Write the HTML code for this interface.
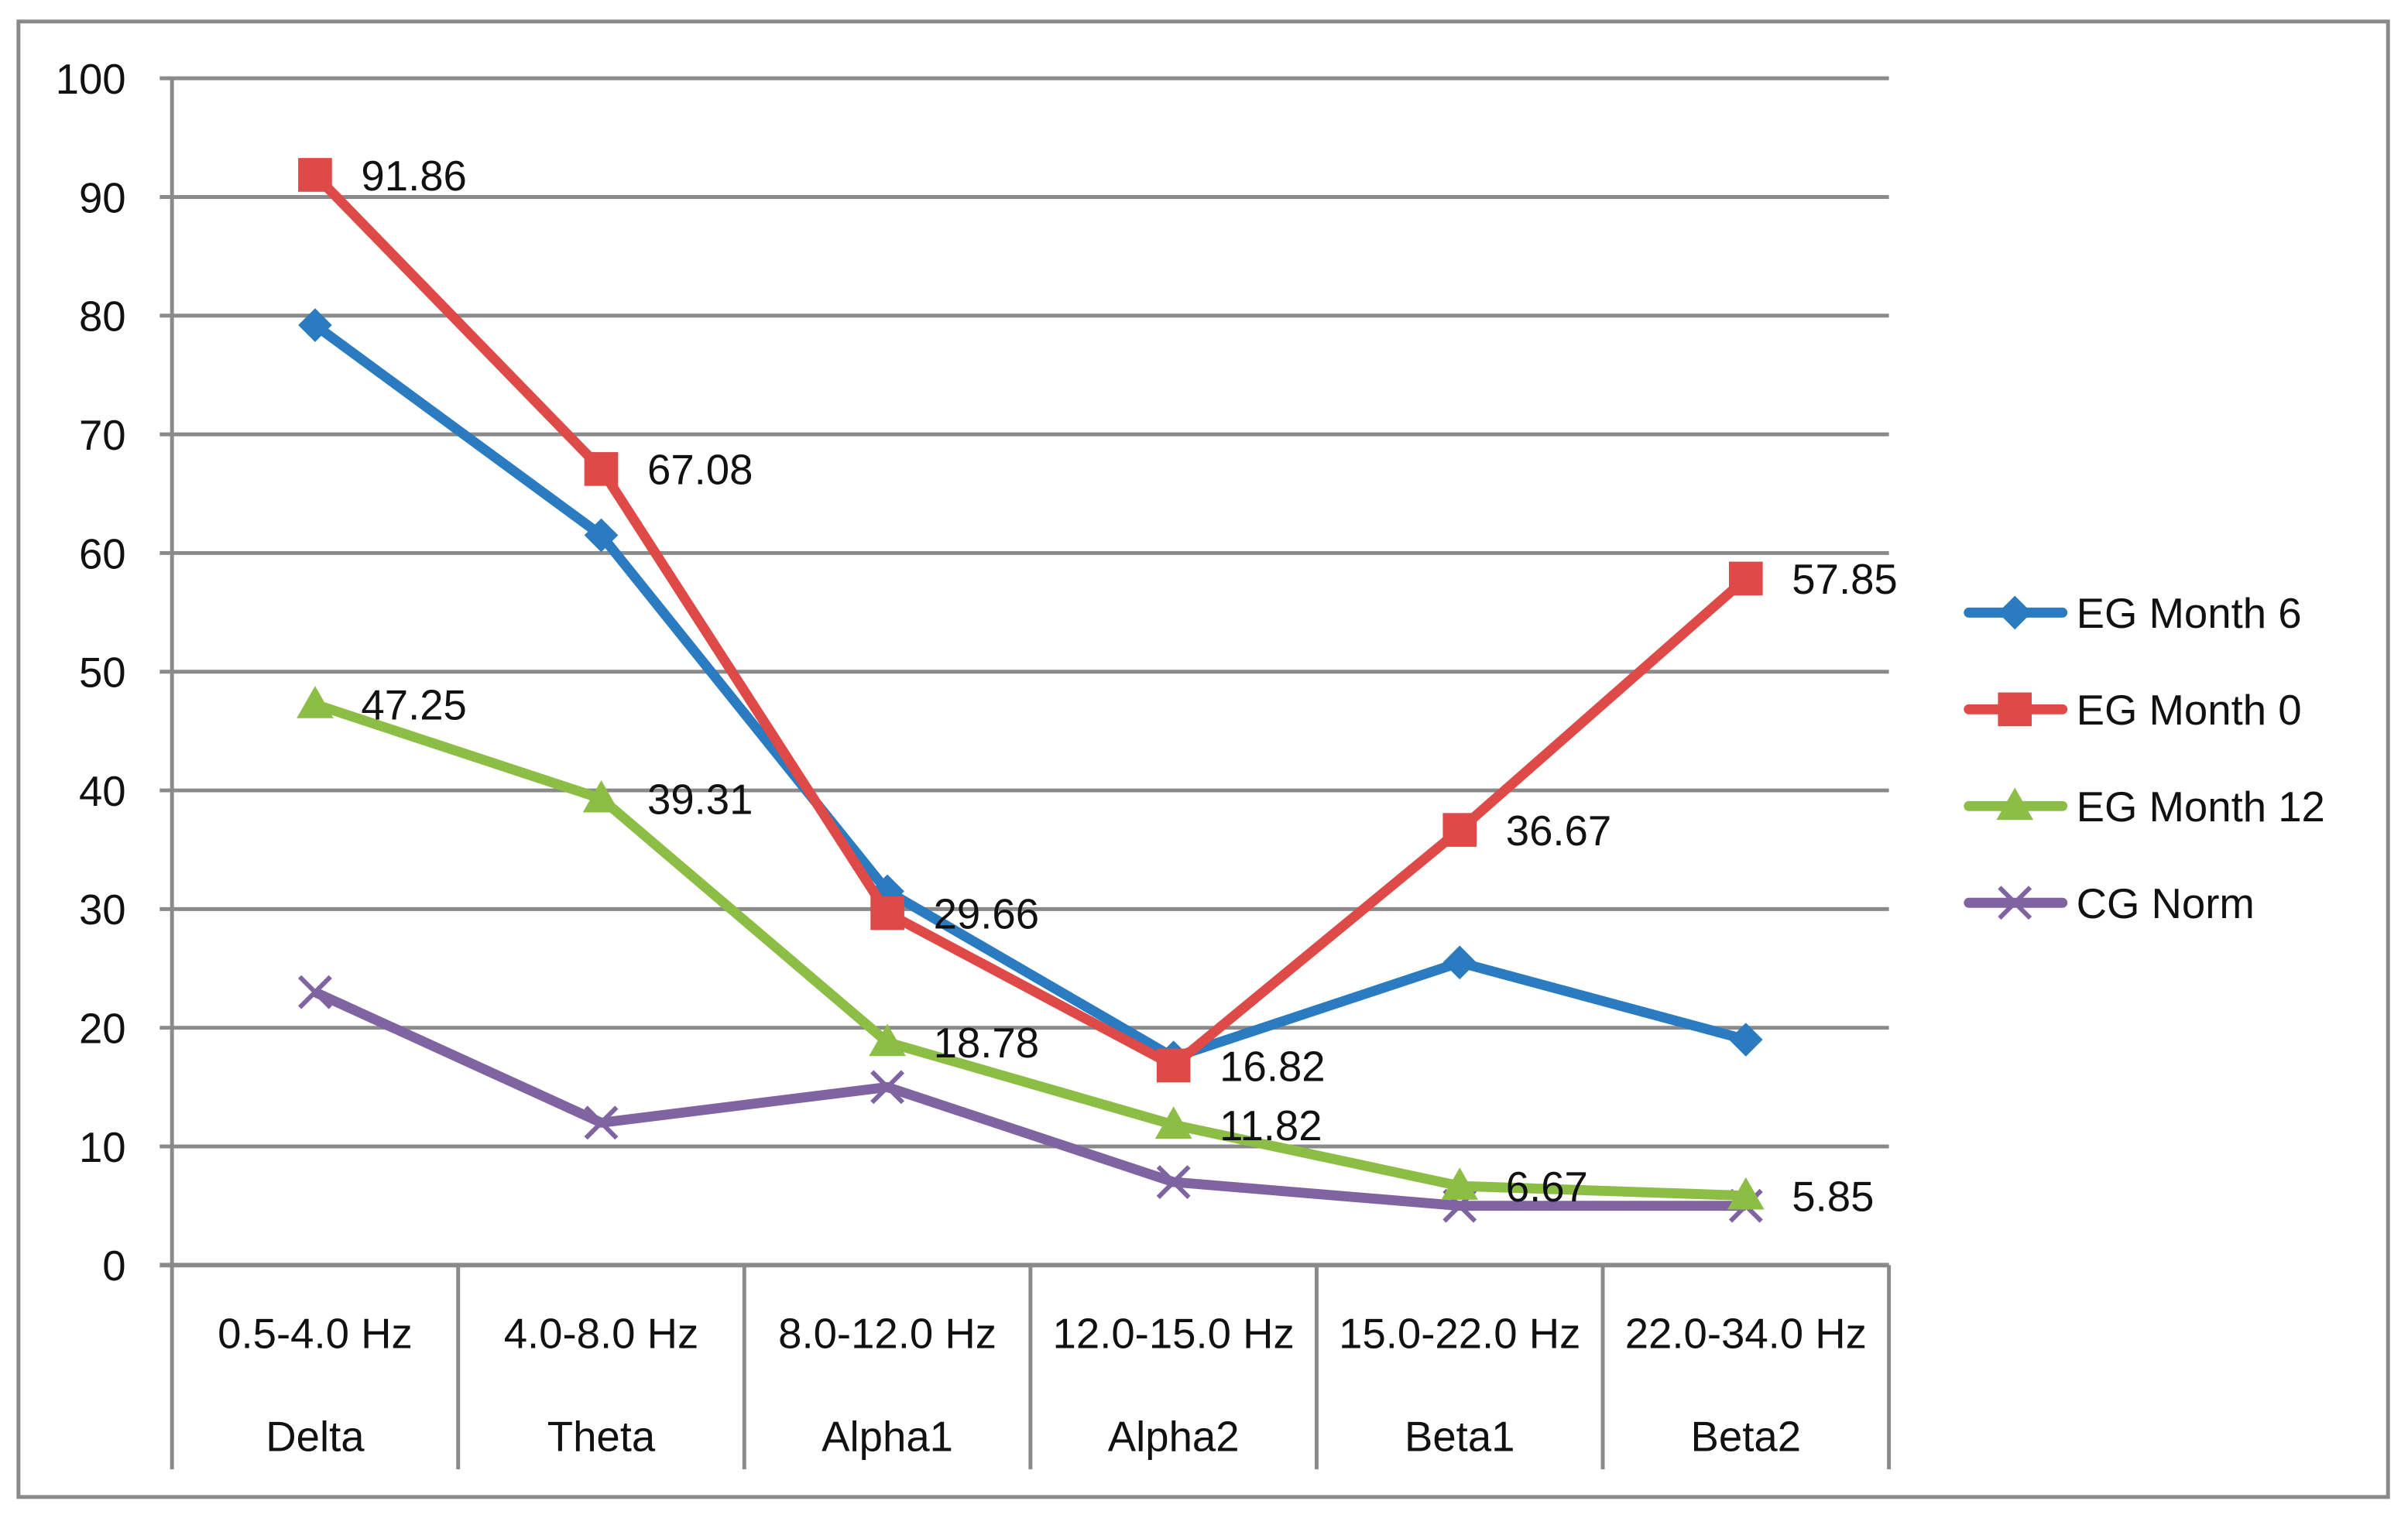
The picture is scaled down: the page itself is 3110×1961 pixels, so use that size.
<!DOCTYPE html>
<html><head><meta charset="utf-8"><style>
html,body{margin:0;padding:0;background:#fff;}
svg{display:block;font-family:"Liberation Sans",sans-serif;}
</style></head><body>
<svg id="chart" width="3110" height="1961" viewBox="0 0 1568 988.7" xmlns="http://www.w3.org/2000/svg">
<rect x="12" y="14" width="1543" height="961" fill="#fff" stroke="#8a8a8a" stroke-width="2.5"/>
<g id="grid"></g><g id="series"></g><g id="labels"></g><g id="legend"></g>
</svg>
<script>
const categoriesTop = ["0.5-4.0 Hz","4.0-8.0 Hz","8.0-12.0 Hz","12.0-15.0 Hz","15.0-22.0 Hz","22.0-34.0 Hz"];
const categoriesBottom = ["Delta","Theta","Alpha1","Alpha2","Beta1","Beta2"];
const yTicks = [0,10,20,30,40,50,60,70,80,90,100];
const seriesNames = ["EG Month 6","EG Month 0","EG Month 12","CG Norm"];
const egMonth6 = [79.2,61.5,31.5,17.5,25.5,19.0];
const egMonth0 = [91.86,67.08,29.66,16.82,36.67,57.85];
const egMonth12 = [47.25,39.31,18.78,11.82,6.67,5.85];
const cgNorm = [23.0,12.0,15.0,7.0,5.0,5.0];

const NS="http://www.w3.org/2000/svg";
const L=112,R=1230,Y0=824,Y100=51;
const FS=27.5;
const band=(R-L)/categoriesTop.length;
const xs=i=>L+band*(i+0.5);
const ys=v=>Y0-(v/100)*(Y0-Y100);
function mk(tag,attrs,parent,text){const e=document.createElementNS(NS,tag);for(const k in attrs)e.setAttribute(k,attrs[k]);if(text!==undefined)e.textContent=text;parent.appendChild(e);return e;}
const grid=document.getElementById('grid'),ser=document.getElementById('series'),lab=document.getElementById('labels'),leg=document.getElementById('legend');
yTicks.forEach(t=>{
  const y=ys(t);
  const ln=mk('line',{x1:L-8,x2:R,y1:y,y2:y,stroke:'#8a8a8a','stroke-width':t===0?3:2.5},grid);
  
  
  const tx=mk('text',{x:82,y:y+10,'text-anchor':'end','font-size':FS,fill:'#111'},grid,String(t));
  
  
});
for(let i=0;i<=categoriesTop.length;i++){
  const x=L+band*i;
  const ln=mk('line',{x1:x,x2:x,y1:i===0?Y100:Y0,y2:957,stroke:'#8a8a8a','stroke-width':2.5},grid);
  
  
}
categoriesTop.forEach((c,i)=>{
  const t1=mk('text',{x:xs(i),y:878,'text-anchor':'middle','font-size':FS,fill:'#111'},grid,c);
  
  
  const t2=mk('text',{x:xs(i),y:945,'text-anchor':'middle','font-size':FS,fill:'#111'},grid,categoriesBottom[i]);
  
  
});
const colors=["#2a7bc0","#dd4a47","#8cbd45","#8064a2"];
const markers=["diamond","square","triangle","x"];
function marker(type,x,y,c,p){
  let e;
  if(type==='diamond')e=mk('polygon',{points:`${x},${y-11} ${x+11},${y} ${x},${y+11} ${x-11},${y}`,fill:c},p);
  else if(type==='square')e=mk('rect',{x:x-11,y:y-11,width:22,height:22,fill:c},p);
  else if(type==='triangle')e=mk('polygon',{points:`${x},${y-12} ${x+12},${y+9} ${x-12},${y+9}`,fill:c},p);
  else e=mk('path',{d:`M${x-10} ${y-10}L${x+10} ${y+10}M${x+10} ${y-10}L${x-10} ${y+10}`,stroke:c,'stroke-width':3,fill:'none'},p);
  return e;
}
const allSeries=[egMonth6,egMonth0,egMonth12,cgNorm];
[3,2,0,1].forEach(s=>{
  const d=allSeries[s];
  const pl=mk('polyline',{points:d.map((v,i)=>xs(i)+','+ys(v)).join(' '),fill:'none',stroke:colors[s],'stroke-width':6.5,'stroke-linejoin':'round'},ser);
  
  
  d.forEach((v,i)=>{
    const m=marker(markers[s],xs(i),ys(v),colors[s],ser);
    
    
  });
});
[1,2].forEach(s=>{
  allSeries[s].forEach((v,i)=>{
    const t=mk('text',{x:xs(i)+30,y:ys(v)+10,'font-size':FS,fill:'#111'},lab,v.toFixed(2));
    
    
  });
});
const legY=[399,462,525,588];
seriesNames.forEach((n,s)=>{
  const g=mk('g',{},leg);
  
  
  mk('line',{x1:1282,x2:1343,y1:legY[s],y2:legY[s],stroke:colors[s],'stroke-width':6.5,'stroke-linecap':'round'},g);
  marker(markers[s],1312,legY[s],colors[s],g);
  mk('text',{x:1352,y:legY[s]+10,'font-size':FS,fill:'#111'},g,n);
});
</script>
</body></html>
